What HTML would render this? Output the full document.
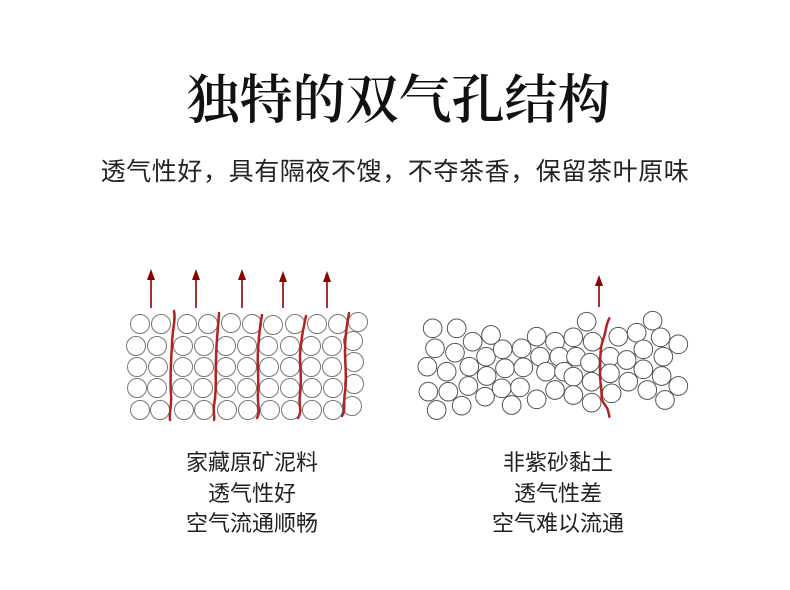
<!DOCTYPE html>
<html><head><meta charset="utf-8"><style>
body{margin:0;background:#fff;width:790px;height:590px;overflow:hidden;position:relative;font-family:"Liberation Sans","Noto Sans CJK SC",sans-serif;color:#111}
.t{position:absolute;white-space:nowrap;text-align:center}
</style></head><body>
<div class="t" style="left:0;width:797px;top:66px;font-size:53px;line-height:70px;font-weight:600;font-family:'Liberation Serif','Noto Serif CJK SC',serif;">独特的双气孔结构</div>
<div class="t" style="left:0;width:790px;top:156px;font-size:25px;line-height:32px;color:#222;letter-spacing:0.6px">透气性好，具有隔夜不馊，不夺茶香，保留茶叶原味</div>
<div class="t" style="left:132px;width:240px;top:448px;font-size:22px;line-height:30.5px;color:#222">家藏原矿泥料<br>透气性好<br>空气流通顺畅</div>
<div class="t" style="left:438px;width:240px;top:448px;font-size:22px;line-height:30.5px;color:#222">非紫砂黏土<br>透气性差<br>空气难以流通</div>
<svg width="790" height="590" style="position:absolute;left:0;top:0">
<g stroke="#8b0000" stroke-width="1.6" fill="none">
<line x1="151" y1="308" x2="151" y2="278"/>
<line x1="196" y1="308" x2="196" y2="278"/>
<line x1="242" y1="308" x2="242" y2="278"/>
<line x1="283" y1="308" x2="283" y2="280"/>
<line x1="327" y1="308" x2="327" y2="280"/>
<line x1="599" y1="307" x2="599" y2="284"/>
</g>
<g fill="#8b0000">
<path d="M147,280 L151,269 L155,280 Z"/><path d="M192,280 L196,269 L200,280 Z"/><path d="M238,280 L242,269 L246,280 Z"/><path d="M279,282 L283,271 L287,282 Z"/><path d="M323,282 L327,271 L331,282 Z"/><path d="M595,286 L599,275 L603,286 Z"/>
</g>
<g stroke="#777" stroke-width="1" fill="#fff">
<circle cx="140" cy="324" r="9.5"/><circle cx="161" cy="324" r="9.5"/><circle cx="187" cy="324" r="9.5"/><circle cx="208" cy="324" r="9.5"/><circle cx="231" cy="323" r="9.5"/><circle cx="252" cy="324" r="9.5"/><circle cx="273" cy="325" r="9.5"/><circle cx="295" cy="324" r="9.5"/><circle cx="317" cy="324" r="9.5"/><circle cx="338" cy="324" r="9.5"/><circle cx="358" cy="322" r="9.5"/>
<circle cx="136" cy="346" r="9.5"/><circle cx="157" cy="346" r="9.5"/><circle cx="183" cy="346" r="9.5"/><circle cx="204" cy="346" r="9.5"/><circle cx="226" cy="346" r="9.5"/><circle cx="247" cy="346" r="9.5"/><circle cx="268" cy="346" r="9.5"/><circle cx="290" cy="346" r="9.5"/><circle cx="311" cy="346" r="9.5"/><circle cx="332" cy="346" r="9.5"/><circle cx="353" cy="341" r="9.5"/>
<circle cx="137" cy="367" r="9.5"/><circle cx="158" cy="367" r="9.5"/><circle cx="183" cy="367" r="9.5"/><circle cx="204" cy="367" r="9.5"/><circle cx="226" cy="367" r="9.5"/><circle cx="247" cy="367" r="9.5"/><circle cx="269" cy="367" r="9.5"/><circle cx="290" cy="367" r="9.5"/><circle cx="311" cy="367" r="9.5"/><circle cx="332" cy="367" r="9.5"/><circle cx="354" cy="362" r="9.5"/>
<circle cx="137" cy="388" r="9.5"/><circle cx="157" cy="388" r="9.5"/><circle cx="182" cy="388" r="9.5"/><circle cx="203" cy="388" r="9.5"/><circle cx="226" cy="388" r="9.5"/><circle cx="247" cy="388" r="9.5"/><circle cx="269" cy="388" r="9.5"/><circle cx="290" cy="388" r="9.5"/><circle cx="312" cy="388" r="9.5"/><circle cx="333" cy="388" r="9.5"/><circle cx="354" cy="384" r="9.5"/>
<circle cx="140" cy="410" r="9.5"/><circle cx="160" cy="410" r="9.5"/><circle cx="184" cy="410" r="9.5"/><circle cx="204" cy="410" r="9.5"/><circle cx="227" cy="410" r="9.5"/><circle cx="248" cy="410" r="9.5"/><circle cx="270" cy="410" r="9.5"/><circle cx="291" cy="410" r="9.5"/><circle cx="312" cy="410" r="9.5"/><circle cx="333" cy="410" r="9.5"/><circle cx="352" cy="406" r="9.5"/>
</g>
<g stroke="#b22222" stroke-width="2.5" fill="none" stroke-linecap="round">
<path d="M174,311 C176,320 172,330 172,345 C171,360 170,380 171,395 C172,405 169,412 170,420"/>
<path d="M219,313 C218,330 216,345 216,360 C215,375 217,390 214,405 C213,412 215,418 214,420"/>
<path d="M262,315 C260,325 259,335 258,350 C257,365 259,378 258,392 C257,405 261,412 257,418"/>
<path d="M306,316 C303,330 301,340 300,355 C300,370 302,380 300,395 C298,405 303,410 298,418"/>
<path d="M349,313 C347,325 345,335 345,350 C345,365 347,378 345,392 C343,405 346,410 342,416"/>
</g>
<g transform="translate(410,260) scale(0.3333)" stroke="#555" stroke-width="3" fill="#fff">
<circle cx="68" cy="205" r="28"/><circle cx="140" cy="205" r="28"/><circle cx="243" cy="225" r="28"/><circle cx="188" cy="245" r="28"/><circle cx="75" cy="265" r="28"/><circle cx="135" cy="278" r="28"/><circle cx="52" cy="320" r="28"/><circle cx="110" cy="335" r="28"/><circle cx="178" cy="320" r="28"/><circle cx="228" cy="290" r="28"/><circle cx="278" cy="268" r="28"/><circle cx="335" cy="265" r="28"/><circle cx="380" cy="230" r="28"/><circle cx="435" cy="245" r="28"/><circle cx="490" cy="232" r="28"/><circle cx="530" cy="185" r="28"/><circle cx="548" cy="245" r="28"/><circle cx="390" cy="290" r="28"/><circle cx="448" cy="290" r="28"/><circle cx="498" cy="290" r="28"/><circle cx="540" cy="308" r="28"/><circle cx="600" cy="290" r="28"/><circle cx="625" cy="230" r="28"/><circle cx="680" cy="218" r="28"/><circle cx="728" cy="182" r="28"/><circle cx="752" cy="232" r="28"/><circle cx="805" cy="253" r="28"/><circle cx="700" cy="268" r="28"/><circle cx="760" cy="290" r="28"/><circle cx="650" cy="300" r="28"/><circle cx="230" cy="348" r="28"/><circle cx="285" cy="325" r="28"/><circle cx="340" cy="322" r="28"/><circle cx="408" cy="335" r="28"/><circle cx="462" cy="335" r="28"/><circle cx="490" cy="350" r="28"/><circle cx="545" cy="365" r="28"/><circle cx="600" cy="340" r="28"/><circle cx="605" cy="400" r="28"/><circle cx="655" cy="365" r="28"/><circle cx="700" cy="328" r="28"/><circle cx="755" cy="348" r="28"/><circle cx="805" cy="378" r="28"/><circle cx="712" cy="390" r="28"/><circle cx="765" cy="420" r="28"/><circle cx="55" cy="395" r="28"/><circle cx="115" cy="395" r="28"/><circle cx="175" cy="378" r="28"/><circle cx="225" cy="410" r="28"/><circle cx="275" cy="385" r="28"/><circle cx="330" cy="382" r="28"/><circle cx="380" cy="418" r="28"/><circle cx="435" cy="390" r="28"/><circle cx="305" cy="435" r="28"/><circle cx="490" cy="405" r="28"/><circle cx="545" cy="428" r="28"/><circle cx="80" cy="450" r="28"/><circle cx="155" cy="437" r="28"/>
<path d="M598,175 C590,190 588,205 585,220 C580,240 572,255 572,275 C570,300 570,320 570,340 C570,370 576,390 575,415 C578,430 592,440 594,452 C596,460 598,465 598,470" stroke="#b22222" stroke-width="7.5" fill="none" stroke-linecap="round"/>
</g>
</svg>
</body></html>
